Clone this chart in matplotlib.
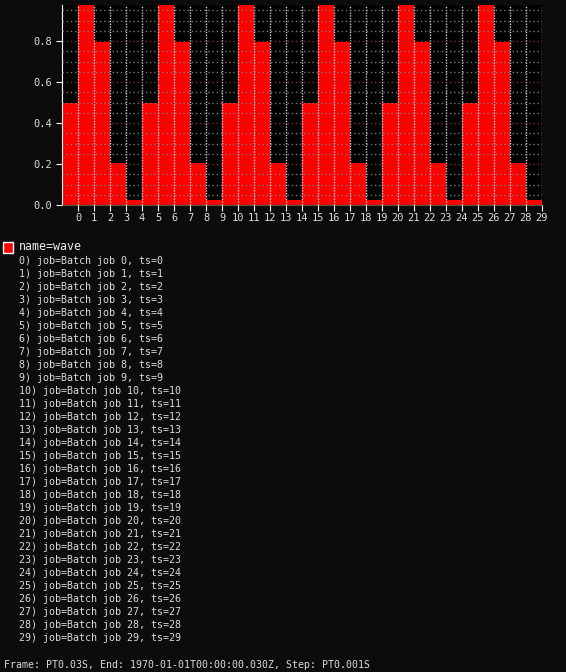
import matplotlib
matplotlib.use('Agg')
import matplotlib.pyplot as plt
from matplotlib.ticker import MultipleLocator
from matplotlib.patches import Rectangle

# data
ts = list(range(30))
wave = [0.5, 0.976, 0.794, 0.206, 0.024,
        0.5, 0.976, 0.794, 0.206, 0.024,
        0.5, 0.976, 0.794, 0.206, 0.024,
        0.5, 0.976, 0.794, 0.206, 0.024,
        0.5, 0.976, 0.794, 0.206, 0.024,
        0.5, 0.976, 0.794, 0.206, 0.024]
jobs = ['Batch job %d' % i for i in ts]
series_name = 'wave'
footer = 'Frame: PT0.03S, End: 1970-01-01T00:00:00.030Z, Step: PT0.001S'

bg = '#0c0c0c'
txt = '#dcdcdc'
mono = 'DejaVu Sans Mono'

fig = plt.figure(figsize=(5.66, 6.72), dpi=100, facecolor=bg)
ax = fig.add_axes([62 / 566, 1 - 205 / 672, 480 / 566, 200 / 672])
ax.set_facecolor('#000000')

# bar i covers [i-1, i]
ax.bar(ts, wave, width=-1.0, align='edge', color='#ff0000', linewidth=0, zorder=1)

ax.set_xlim(-1, 29)
ax.set_ylim(0, max(wave))
ax.set_xticks(ts)
ax.yaxis.set_major_locator(MultipleLocator(0.2))
ax.yaxis.set_minor_locator(MultipleLocator(0.05))

ax.grid(True, axis='x', which='major', color='#d0d0d0', linestyle=(0, (1, 1)), linewidth=1, zorder=3)
ax.grid(True, axis='y', which='minor', color='#7a7a7a', linestyle=(0, (1, 2)), linewidth=1, zorder=3)
ax.grid(True, axis='y', which='major', color='#8a3030', linestyle=(0, (1, 2)), linewidth=1, zorder=3)
ax.set_axisbelow(False)

for s in ['top', 'right']:
    ax.spines[s].set_visible(False)
ax.spines['left'].set_color('#ffffff')
ax.spines['bottom'].set_color('#555555')
ax.tick_params(axis='y', which='major', colors='#ffffff', labelcolor=txt, length=4, pad=3, labelsize=7.5)
ax.tick_params(axis='y', which='minor', length=0)
ax.tick_params(axis='x', colors='#ffffff', labelcolor=txt, length=4, pad=2, labelsize=7.5)
for lab in ax.get_xticklabels() + ax.get_yticklabels():
    lab.set_family(mono)

# legend-like text block
fig.patches.append(Rectangle((3 / 566, 1 - 253 / 672), 10 / 566, 11 / 672,
                             transform=fig.transFigure, facecolor='#ff0000',
                             edgecolor='#ffffff', linewidth=1))
fig.text(19 / 566, 1 - 247 / 672, 'name=' + series_name, family=mono, fontsize=8.4,
         color='#eeeeee', va='center', ha='left')
for i, j in zip(ts, jobs):
    y = 261 + 13 * i
    fig.text(19 / 566, 1 - y / 672, '%d) job=%s, ts=%d' % (i, j, i), family=mono,
             fontsize=7.2, color=txt, va='center', ha='left')

fig.text(4 / 566, 1 - 665 / 672, footer, family=mono, fontsize=7.1, color=txt,
         va='center', ha='left')

fig.savefig('out.png', dpi=100, facecolor=bg)
